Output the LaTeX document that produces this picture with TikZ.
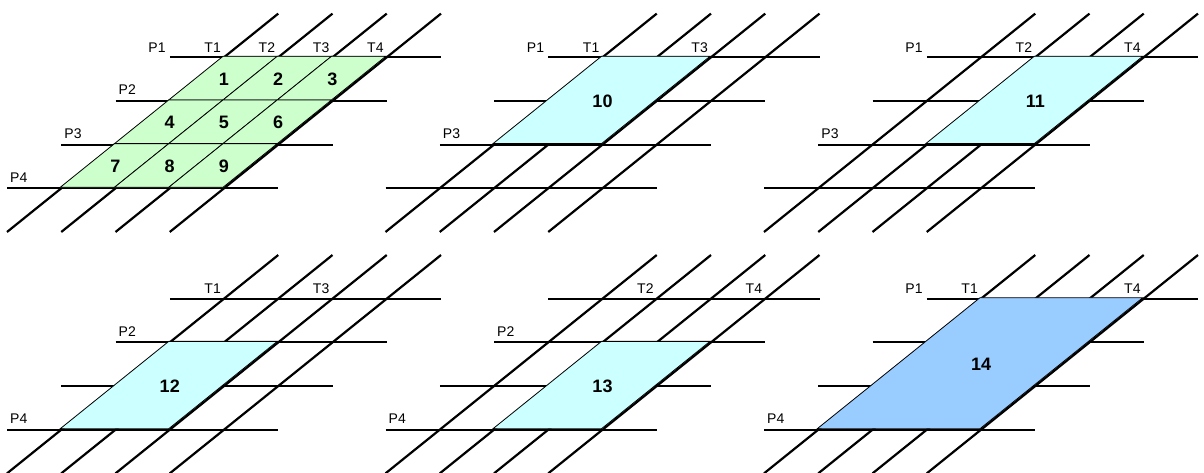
\documentclass[tikz,border=0pt]{standalone}
\usepackage{fontspec}
\setmainfont{Liberation Sans}

\definecolor{cellgreen}{HTML}{CCFFCC}
\definecolor{cellcyan}{HTML}{CCFFFF}
\definecolor{cellblue}{HTML}{99CCFF}

\tikzset{
  gridline/.style={line width=2.2pt},
  region/.style={draw=black,line width=0.8pt,xshift=-1pt,yshift=1pt},
  lbl/.style={inner sep=0pt,font=\fontsize{14}{16}\selectfont},
  tlabel/.style={lbl,anchor=base east,xshift=-3pt,yshift=5pt},
  pleft/.style={lbl,anchor=base east,xshift=-4pt,yshift=5pt},
  pabove/.style={lbl,anchor=base west,xshift=3pt,yshift=6pt},
  cellnum/.style={inner sep=0pt,font=\fontsize{18}{20}\selectfont\bfseries},
  panel/.style={shift={#1},x={(54.25pt,0pt)},y={(-54.25pt,-43.67pt)}}
}

% four P lines and four T lines of one panel
\newcommand{\drawgrid}{%
  \foreach \j in {0,...,3}
    \draw[gridline] (-1,\j) -- (4,\j);
  \foreach \i in {0,...,3}
    \draw[gridline] (\i,-1) -- (\i,4);
}

\begin{document}
\begin{tikzpicture}
  \useasboundingbox (0,0) rectangle (1204pt,473pt);

  % panel 1: cells 1..9
  \begin{scope}[panel={(224pt,415.7pt)}]
    \drawgrid
    \foreach \i in {0,1,2}
      \foreach \j in {0,1,2} {
        \pgfmathtruncatemacro{\n}{3*\j+\i+1}
        \filldraw[region,fill=cellgreen] (\i,\j) -- (\i+1,\j) -- (\i+1,\j+1) -- (\i,\j+1) -- cycle;
        \node[cellnum] (c\n) at (\i+.5,\j+.5) {\n};
      }
    \node[pleft] (a-p1) at (-1,0) {P1};
    \node[pabove] (a-p2) at (-1,1) {P2};
    \node[pabove] (a-p3) at (-1,2) {P3};
    \node[pabove] (a-p4) at (-1,3) {P4};
    \foreach \i in {1,...,4}
      \node[tlabel] (a-t\i) at (\i-1,0) {T\i};
  \end{scope}

  % panel 2: cell 10
  \begin{scope}[panel={(602.5pt,415.7pt)}]
    \drawgrid
    \filldraw[region,fill=cellcyan] (0,0) -- (2,0) -- (2,2) -- (0,2) -- cycle;
    \node[cellnum] (c10) at (1,1) {10};
    \node[pleft] (b-p1) at (-1,0) {P1};
    \node[pabove] (b-p3) at (-1,2) {P3};
    \node[tlabel] (b-t1) at (0,0) {T1};
    \node[tlabel] (b-t3) at (2,0) {T3};
  \end{scope}

  % panel 3: cell 11
  \begin{scope}[panel={(981pt,415.7pt)}]
    \drawgrid
    \filldraw[region,fill=cellcyan] (1,0) -- (3,0) -- (3,2) -- (1,2) -- cycle;
    \node[cellnum] (c11) at (2,1) {11};
    \node[pleft] (c-p1) at (-1,0) {P1};
    \node[pabove] (c-p3) at (-1,2) {P3};
    \node[tlabel] (c-t2) at (1,0) {T2};
    \node[tlabel] (c-t4) at (3,0) {T4};
  \end{scope}

  % panel 4: cell 12
  \begin{scope}[panel={(224pt,174.3pt)}]
    \drawgrid
    \filldraw[region,fill=cellcyan] (0,1) -- (2,1) -- (2,3) -- (0,3) -- cycle;
    \node[cellnum] (c12) at (1,2) {12};
    \node[pabove] (d-p2) at (-1,1) {P2};
    \node[pabove] (d-p4) at (-1,3) {P4};
    \node[tlabel] (d-t1) at (0,0) {T1};
    \node[tlabel] (d-t3) at (2,0) {T3};
  \end{scope}

  % panel 5: cell 13
  \begin{scope}[panel={(602.5pt,174.3pt)}]
    \drawgrid
    \filldraw[region,fill=cellcyan] (1,1) -- (3,1) -- (3,3) -- (1,3) -- cycle;
    \node[cellnum] (c13) at (2,2) {13};
    \node[pabove] (e-p2) at (-1,1) {P2};
    \node[pabove] (e-p4) at (-1,3) {P4};
    \node[tlabel] (e-t2) at (1,0) {T2};
    \node[tlabel] (e-t4) at (3,0) {T4};
  \end{scope}

  % panel 6: cell 14
  \begin{scope}[panel={(981pt,174.3pt)}]
    \drawgrid
    \filldraw[region,fill=cellblue] (0,0) -- (3,0) -- (3,3) -- (0,3) -- cycle;
    \node[cellnum] (c14) at (1.5,1.5) {14};
    \node[pleft] (f-p1) at (-1,0) {P1};
    \node[pabove] (f-p4) at (-1,3) {P4};
    \node[tlabel] (f-t1) at (0,0) {T1};
    \node[tlabel] (f-t4) at (3,0) {T4};
  \end{scope}
\end{tikzpicture}
\end{document}
